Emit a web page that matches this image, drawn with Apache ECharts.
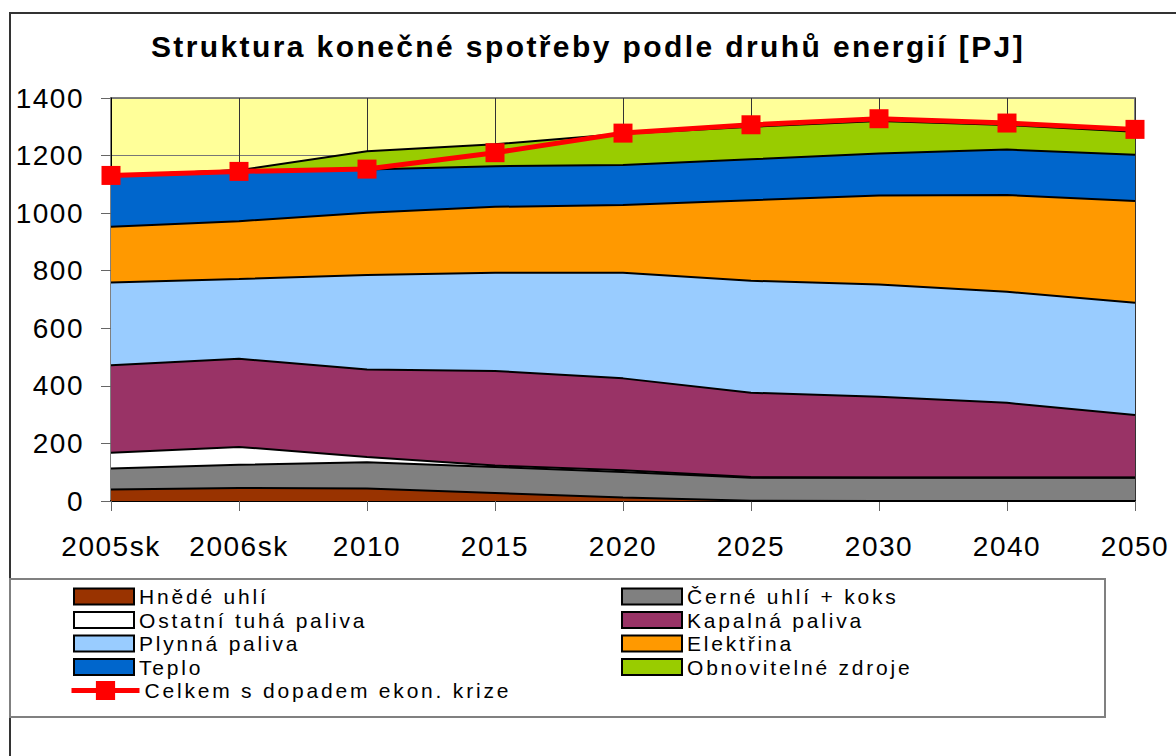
<!DOCTYPE html>
<html>
<head>
<meta charset="utf-8">
<script src="https://cdn.jsdelivr.net/npm/echarts@6/dist/echarts.min.js"></script>
<style>
  html, body { margin: 0; padding: 0; background: #fff; }
  #chart { width: 1176px; height: 756px; }
  /* spaced lettering like the original Excel export */
  #chart text[style*="30px"] { letter-spacing: 2.4px; }
  #chart text[style*="28px"] { letter-spacing: 1.5px; }
  #chart text[style*="21px"] { letter-spacing: 2.8px; }
</style>
</head>
<body>
<div id="chart"></div>
<script>
const years = ['2005sk', '2006sk', '2010', '2015', '2020', '2025', '2030', '2040', '2050']

// PJ (stacked bottom -> top)
const hnedeUhli = [40, 45, 43, 28, 12, 1, 0, 0, 0]
const cerneUhli = [73, 81, 92, 90, 89, 80, 81, 81, 81]
const ostatniTuha = [55, 62, 18, 5, 6, 2, 1, 1, 1]
const kapalna = [304, 306, 304, 329, 319, 293, 280, 259, 217]
const plynna = [287, 277, 328, 341, 367, 389, 390, 386, 390]
const elektrina = [194, 201, 216, 229, 235, 280, 309, 336, 353]
const teplo = [179, 177, 151, 141, 139, 142, 146, 158, 161]
const obnovitelne = [0, 0, 63, 76, 109, 113, 113, 85, 80]
const celkemKrize = [1131, 1145, 1153, 1210, 1278, 1307, 1328, 1313, 1291]

const FONT = 'Arial, "Liberation Sans", sans-serif'

function area (name, data, color) {
  return {
    name: name,
    type: 'line',
    stack: 'energie',
    data: data,
    symbol: 'none',
    lineStyle: { color: '#000', width: 2 },
    itemStyle: { color: color },
    areaStyle: { color: color, opacity: 1 },
    emphasis: { disabled: true },
    z: 2
  }
}

const series = [
  area('Hnědé uhlí', hnedeUhli, '#993300'),
  area('Černé uhlí + koks', cerneUhli, '#808080'),
  area('Ostatní tuhá paliva', ostatniTuha, '#ffffff'),
  area('Kapalná paliva', kapalna, '#993366'),
  area('Plynná paliva', plynna, '#99ccff'),
  area('Elektřina', elektrina, '#ff9900'),
  area('Teplo', teplo, '#0066cc'),
  area('Obnovitelné zdroje', obnovitelne, '#99cc00'),
  {
    name: 'Celkem s dopadem ekon. krize',
    type: 'line',
    data: celkemKrize,
    symbol: 'rect',
    symbolSize: 19,
    lineStyle: { color: '#ff0000', width: 5 },
    itemStyle: { color: '#ff0000' },
    emphasis: { disabled: true },
    z: 5
  }
]

const boxItem = name => ({ name: name, icon: 'rect', itemStyle: { borderColor: '#000', borderWidth: 2 } })
const legendText = { fontFamily: FONT, fontSize: 21, color: '#000', lineHeight: 16 }

const chart = echarts.init(document.getElementById('chart'), null, { renderer: 'svg' })
chart.setOption({
  animation: false,
  backgroundColor: '#fff',
  title: {
    text: 'Struktura konečné spotřeby podle druhů energií [PJ]',
    left: 'center',
    top: 26,
    textStyle: { fontFamily: FONT, fontSize: 30, fontWeight: 'bold', color: '#000' }
  },
  grid: {
    left: 111,
    right: 41,
    top: 98,
    bottom: 255,
    show: true,
    backgroundColor: '#ffff99',
    borderColor: '#808080',
    borderWidth: 2
  },
  xAxis: {
    type: 'category',
    data: years,
    boundaryGap: false,
    axisLine: { lineStyle: { color: '#000', width: 2 } },
    axisTick: { length: 10, lineStyle: { color: '#666' } },
    axisLabel: { fontFamily: FONT, fontSize: 28, color: '#000', margin: 31 },
    splitLine: { show: true, lineStyle: { color: '#333', width: 1 } }
  },
  yAxis: {
    type: 'value',
    min: 0,
    max: 1400,
    interval: 200,
    axisLine: { show: true, lineStyle: { color: '#000', width: 1 } },
    axisTick: { show: true, length: 10, lineStyle: { color: '#666' } },
    axisLabel: { fontFamily: FONT, fontSize: 28, color: '#000', margin: 27, formatter: v => String(v) },
    splitLine: { show: true, lineStyle: { color: '#777', width: 1 } }
  },
  legend: [
    {
      orient: 'vertical',
      left: 68,
      top: 581,
      itemWidth: 60,
      itemHeight: 16,
      itemGap: 2.5,
      itemTextGap: 8,
      selectedMode: false,
      textStyle: legendText,
      data: ['Hnědé uhlí', 'Ostatní tuhá paliva', 'Plynná paliva', 'Teplo'].map(boxItem)
    },
    {
      orient: 'vertical',
      left: 616,
      top: 581,
      itemWidth: 60,
      itemHeight: 16,
      itemGap: 2.5,
      itemTextGap: 8,
      selectedMode: false,
      textStyle: legendText,
      data: ['Černé uhlí + koks', 'Kapalná paliva', 'Elektřina', 'Obnovitelné zdroje'].map(boxItem)
    },
    {
      orient: 'vertical',
      left: 64,
      top: 673.5,
      itemWidth: 68,
      itemHeight: 24,
      itemTextGap: 5,
      selectedMode: false,
      lineStyle: { width: 5 },
      textStyle: { fontFamily: FONT, fontSize: 21, color: '#000', lineHeight: 24 },
      data: ['Celkem s dopadem ekon. krize']
    }
  ],
  graphic: [
    {
      type: 'rect',
      shape: { x: 10, y: 13, width: 1200, height: 800 },
      style: { fill: 'none', stroke: '#333', lineWidth: 2 },
      silent: true
    },
    {
      type: 'rect',
      shape: { x: 10, y: 579, width: 1095, height: 138 },
      style: { fill: 'none', stroke: '#808080', lineWidth: 2 },
      silent: true
    }
  ],
  series: series
})
</script>
</body>
</html>
